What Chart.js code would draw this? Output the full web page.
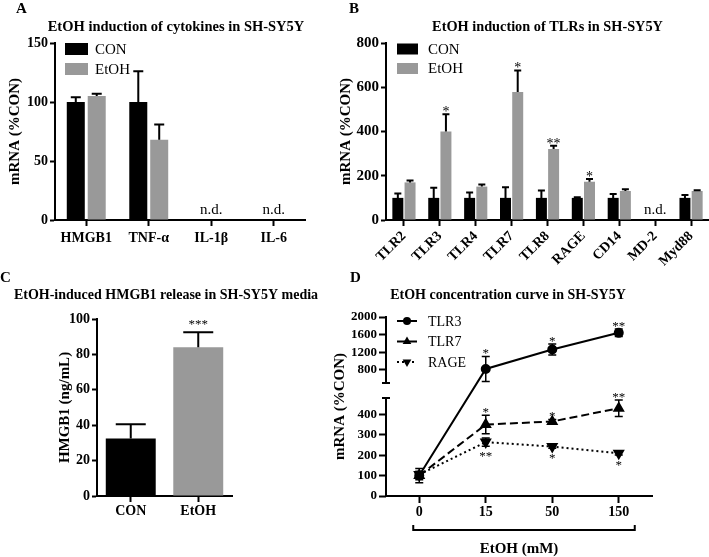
<!DOCTYPE html>
<html>
<head>
<meta charset="utf-8">
<script src="https://cdn.jsdelivr.net/npm/chart.js@4.4.1/dist/chart.umd.min.js"></script>
<style>
  body { margin: 0; background: #fff; }
  #fig { position: relative; width: 709px; height: 557px; overflow: hidden; background: #fff; }
  #fig canvas { position: absolute; }
  .lbl { position: absolute; font: bold 15px "Liberation Serif", "Times New Roman", serif; line-height: 16px; }
</style>
</head>
<body>
<div id="fig">
  <canvas id="cA" width="350" height="280" style="left:0;top:0"></canvas>
  <canvas id="cB" width="400" height="280" style="left:320px;top:0"></canvas>
  <canvas id="cC" width="350" height="277" style="left:0;top:280px"></canvas>
  <canvas id="cD" width="400" height="277" style="left:320px;top:280px"></canvas>
  <div class="lbl" style="left:16px;top:0">A</div>
  <div class="lbl" style="left:349px;top:0">B</div>
  <div class="lbl" style="left:0;top:269px">C</div>
  <div class="lbl" style="left:350px;top:269px">D</div>
</div>
<script>
// ---- A: cytokines ----
const catsA = ['HMGB1', 'TNF-α', 'IL-1β', 'IL-6'];
const conA = [100, 100, null, null];
const conErrA = [4, 26, null, null];
const etohA = [105, 68, null, null];
const etohErrA = [2, 13, null, null];
const ndA = ['', '', 'n.d.', 'n.d.'];
const ticksA = [0, 50, 100, 150];

// ---- B: TLRs ----
const catsB = ['TLR2', 'TLR3', 'TLR4', 'TLR7', 'TLR8', 'RAGE', 'CD14', 'MD-2', 'Myd88'];
const conB = [100, 100, 100, 100, 100, 100, 100, null, 100];
const conErrB = [20, 46, 24, 48, 33, 3, 17, null, 13];
const etohB = [170, 400, 151, 578, 321, 173, 131, null, 131];
const etohErrB = [8, 78, 10, 98, 15, 12, 8, null, 3];
const starsB = ['', '*', '', '*', '**', '*', '', '', ''];
const ndB = ['', '', '', '', '', '', '', 'n.d.', ''];
const ticksB = [0, 200, 400, 600, 800];

// ---- C: HMGB1 release ----
const catsC = ['CON', 'EtOH'];
const valC = [32.5, 84];
const errC = [8, 8.5];
const starsC = ['', '***'];
const ticksC = [0, 20, 40, 60, 80, 100];

// ---- D: concentration curve ----
const doseD = ['0', '15', '50', '150'];
const tlr3D = [100, 820, 1260, 1640];
const tlr3ErrD = [35, 285, 125, 85];
const tlr3StarsD = ['', '*', '*', '**'];
const tlr7D = [100, 350, 365, 430];
const tlr7ErrD = [20, 45, 10, 40];
const tlr7StarsD = ['', '*', '*', '**'];
const rageD = [105, 264, 242, 209];
const rageErrD = [15, 20, 8, 8];
const rageStarsD = ['', '**', '*', '*'];
const ticksD = [0, 100, 200, 300, 400, 800, 1200, 1600, 2000];
const breakLow = 480, breakHigh = 500;   // y axis is cut between these

const serif = '"Liberation Serif", "Times New Roman", serif';
Chart.defaults.font.family = serif;
Chart.defaults.color = '#000';

// y scale with a gap, for panel D
const lowFrac = 98 / 179, gapFrac = 15 / 179;
class BrokenScale extends Chart.LinearScale {
  frac(v) {
    if (v <= breakLow) return v / breakLow * lowFrac;
    if (v >= breakHigh) return lowFrac + gapFrac + (v - breakHigh) / (this.max - breakHigh) * (1 - lowFrac - gapFrac);
    return lowFrac + (v - breakLow) / (breakHigh - breakLow) * gapFrac;
  }
  getPixelForValue(v) {
    if (v === null || v === undefined) return NaN;
    return this.bottom - this.frac(v) * (this.bottom - this.top);
  }
  getValueForPixel(p) {
    const f = (this.bottom - p) / (this.bottom - this.top);
    if (f <= lowFrac) return f / lowFrac * breakLow;
    if (f >= lowFrac + gapFrac) return breakHigh + (f - lowFrac - gapFrac) / (1 - lowFrac - gapFrac) * (this.max - breakHigh);
    return breakLow + (f - lowFrac) / gapFrac * (breakHigh - breakLow);
  }
}
BrokenScale.id = 'broken';
BrokenScale.defaults = Chart.LinearScale.defaults;
Chart.register(BrokenScale);

function yAxis(title, titlePad, width, fontSize, tickLen, tickVals) {
  return {
    position: 'left',
    z: 1,
    min: tickVals[0],
    max: tickVals[tickVals.length - 1],
    afterBuildTicks: s => { s.ticks = tickVals.map(v => ({ value: v })); },
    title: { display: true, text: title, font: { size: 15, weight: 'bold' }, padding: { top: titlePad, bottom: 0 } },
    ticks: { font: { size: fontSize, weight: 'bold' }, padding: 2, color: '#000', callback: v => String(v) },
    grid: { drawOnChartArea: false, drawTicks: true, tickLength: tickLen, tickWidth: 2, tickColor: '#000' },
    border: { display: true, width: 2, color: '#000' },
    afterFit: s => { s.width = width; }
  };
}

function xAxis(fontSize, tickLen, pad, height) {
  return {
    z: 1,
    ticks: { font: { size: fontSize, weight: 'bold' }, padding: pad, color: '#000', maxRotation: 0, autoSkip: false },
    grid: { offset: false, drawOnChartArea: false, drawTicks: true, tickLength: tickLen, tickWidth: 2, tickColor: '#000' },
    border: { display: true, width: 2, color: '#000' },
    afterFit: s => { s.height = height; }
  };
}

function marker(ctx, style, r, x, y) {
  ctx.beginPath();
  if (style === 'circle') {
    ctx.arc(x, y, r, 0, Math.PI * 2);
  } else {
    const s = style === 'down' ? -1 : 1;
    ctx.moveTo(x, y - s * r);
    ctx.lineTo(x + r * 0.87, y + s * r * 0.5);
    ctx.lineTo(x - r * 0.87, y + s * r * 0.5);
    ctx.closePath();
  }
  ctx.fill();
}

// error bars, stars, n.d., titles, legends
function makeExtras(cfg) {
  return {
    id: 'extras',
    afterDatasetsDraw(chart) {
      const ctx = chart.ctx, ys = chart.scales.y;
      ctx.save();
      chart.data.datasets.forEach((ds, i) => {
        if (!ds.errors) return;
        const meta = chart.getDatasetMeta(i);
        meta.data.forEach((el, j) => {
          const v = ds.data[j], e = ds.errors[j];
          if (v === null || e === null) return;
          const x = el.x;
          const yTop = ys.getPixelForValue(v + e);
          const yBot = ys.getPixelForValue(cfg.both ? v - e : v);
          ctx.strokeStyle = '#000';
          ctx.lineWidth = cfg.errWidth || 2;
          ctx.setLineDash([]);
          ctx.beginPath();
          ctx.moveTo(x, yBot); ctx.lineTo(x, yTop);
          ctx.moveTo(x - cfg.cap / 2, yTop); ctx.lineTo(x + cfg.cap / 2, yTop);
          if (cfg.both) { ctx.moveTo(x - cfg.cap / 2, yBot); ctx.lineTo(x + cfg.cap / 2, yBot); }
          ctx.stroke();
          const s = ds.stars && ds.stars[j];
          if (s) {
            ctx.fillStyle = '#000';
            ctx.font = cfg.starFont + 'px ' + serif;
            ctx.textAlign = 'center';
            ctx.textBaseline = 'alphabetic';
            const y = ds.starsBelow ? yBot + cfg.starBelow : yTop + cfg.starAbove;
            ctx.fillText(s, x, y);
          }
        });
      });
      ctx.restore();
    },
    afterDraw(chart) {
      const ctx = chart.ctx, ca = chart.chartArea, xs = chart.scales.x, ys = chart.scales.y;
      ctx.save();
      ctx.fillStyle = '#000';
      ctx.strokeStyle = '#000';
      // title
      ctx.font = 'bold ' + cfg.titleSize + 'px ' + serif;
      ctx.textAlign = 'center';
      ctx.textBaseline = 'middle';
      ctx.fillText(cfg.title, (ca.left + ca.right) / 2 + cfg.titleDx, cfg.titleY);
      // n.d.
      if (cfg.nd) {
        ctx.font = '15px ' + serif;
        ctx.textBaseline = 'alphabetic';
        cfg.nd.forEach((t, j) => { if (t) ctx.fillText(t, xs.getPixelForValue(j), ys.getPixelForValue(0) - 6); });
      }
      // legend
      const lg = cfg.legend;
      if (lg) {
        ctx.font = lg.size + 'px ' + serif;
        ctx.textAlign = 'left';
        ctx.textBaseline = 'middle';
        chart.data.datasets.forEach((ds, i) => {
          const y = ca.top + lg.y + i * lg.dy;
          const x = ca.left + lg.x;
          if (lg.lines) {
            ctx.lineWidth = 2;
            ctx.setLineDash(ds.borderDash || []);
            ctx.beginPath(); ctx.moveTo(x, y); ctx.lineTo(x + lg.w, y); ctx.stroke();
            ctx.setLineDash([]);
            marker(ctx, ds.marker, ds.marker === 'circle' ? 4 : 5, x + lg.w / 2, y);
          } else {
            ctx.fillStyle = ds.backgroundColor;
            ctx.fillRect(x, y - lg.h / 2, lg.w, lg.h);
          }
          ctx.fillStyle = '#000';
          ctx.fillText(ds.label, x + lg.tx, y + 1);
        });
      }
      // broken y axis and bracket (panel D)
      if (cfg.broken) {
        const x0 = ca.left;
        ctx.lineWidth = 2;
        ctx.beginPath();
        ctx.moveTo(x0, ys.getPixelForValue(0) + 1); ctx.lineTo(x0, ys.getPixelForValue(breakLow));
        ctx.moveTo(x0 - 4, ys.getPixelForValue(breakLow)); ctx.lineTo(x0 + 4, ys.getPixelForValue(breakLow));
        ctx.moveTo(x0, ys.getPixelForValue(ys.max) - 1); ctx.lineTo(x0, ys.getPixelForValue(breakHigh));
        ctx.moveTo(x0 - 4, ys.getPixelForValue(breakHigh)); ctx.lineTo(x0 + 4, ys.getPixelForValue(breakHigh));
        ctx.stroke();
        const bx0 = xs.getPixelForValue(0) - 6, bx1 = xs.getPixelForValue(doseD.length - 1) + 16;
        ctx.beginPath();
        ctx.moveTo(bx0, cfg.bracketY - 5); ctx.lineTo(bx0, cfg.bracketY);
        ctx.lineTo(bx1, cfg.bracketY); ctx.lineTo(bx1, cfg.bracketY - 5);
        ctx.stroke();
      }
      ctx.restore();
    }
  };
}

const noPlugins = { legend: { display: false }, tooltip: { enabled: false } };

// Panel A
new Chart(document.getElementById('cA'), {
  type: 'bar',
  data: {
    labels: catsA,
    datasets: [
      { label: 'CON', data: conA, errors: conErrA, backgroundColor: '#000' },
      { label: 'EtOH', data: etohA, errors: etohErrA, backgroundColor: '#999' }
    ]
  },
  options: {
    responsive: false, animation: false,
    layout: { padding: { left: 0, top: 43, right: 45, bottom: 0 } },
    datasets: { bar: { categoryPercentage: 0.67, barPercentage: 0.86 } },
    plugins: noPlugins,
    scales: {
      x: xAxis(14, 6, 4, 60),
      y: yAxis('mRNA (%CON)', 6, 55, 14, 5, ticksA)
    }
  },
  plugins: [makeExtras({
    cap: 10, title: 'EtOH induction of cytokines in SH-SY5Y', titleSize: 14.5, titleDx: -4, titleY: 27,
    nd: ndA, legend: { x: 10, y: 6, dy: 20, w: 23, h: 12, tx: 30, size: 15 }
  })]
});

// Panel B
const xB = xAxis(14, 6, 2, 60);
xB.ticks.maxRotation = 45;
xB.ticks.minRotation = 45;
new Chart(document.getElementById('cB'), {
  type: 'bar',
  data: {
    labels: catsB,
    datasets: [
      { label: 'CON', data: conB, errors: conErrB, backgroundColor: '#000' },
      { label: 'EtOH', data: etohB, errors: etohErrB, stars: starsB, backgroundColor: '#999' }
    ]
  },
  options: {
    responsive: false, animation: false,
    layout: { padding: { left: 0, top: 43, right: 11, bottom: 0 } },
    datasets: { bar: { categoryPercentage: 0.68, barPercentage: 0.9 } },
    plugins: noPlugins,
    scales: {
      x: xB,
      y: yAxis('mRNA (%CON)', 17, 66, 15, 5, ticksB)
    }
  },
  plugins: [makeExtras({
    cap: 7, starFont: 14, starAbove: 2, title: 'EtOH induction of TLRs in SH-SY5Y', titleSize: 14.3, titleDx: 0, titleY: 27,
    nd: ndB, legend: { x: 11, y: 6, dy: 19.5, w: 21, h: 11, tx: 31, size: 15 }
  })]
});

// Panel C
new Chart(document.getElementById('cC'), {
  type: 'bar',
  data: {
    labels: catsC,
    datasets: [
      { label: 'HMGB1', data: valC, errors: errC, stars: starsC, backgroundColor: ['#000', '#999'] }
    ]
  },
  options: {
    responsive: false, animation: false,
    layout: { padding: { left: 0, top: 39, right: 118, bottom: 0 } },
    datasets: { bar: { categoryPercentage: 0.74, barPercentage: 1 } },
    plugins: noPlugins,
    scales: {
      x: xAxis(14, 6, 1, 61),
      y: yAxis('HMGB1 (ng/mL)', 56, 97, 14, 5, ticksC)
    }
  },
  plugins: [makeExtras({
    cap: 30, starFont: 13, starAbove: -4, title: 'EtOH-induced HMGB1 release in SH-SY5Y media', titleSize: 14, titleDx: 1.5, titleY: 15
  })]
});

// Panel D
const yD = yAxis('mRNA (%CON)', 11, 66, 13, 7, ticksD);
yD.type = 'broken';
yD.border = { display: false };
const xD = xAxis(14, 7, 1, 61);
xD.offset = true;
xD.title = { display: true, text: 'EtOH (mM)', font: { size: 15, weight: 'bold', lineHeight: 1 }, padding: 0 };
new Chart(document.getElementById('cD'), {
  type: 'line',
  data: {
    labels: doseD,
    datasets: [
      { label: 'TLR3', data: tlr3D, errors: tlr3ErrD, stars: tlr3StarsD, marker: 'circle',
        borderColor: '#000', backgroundColor: '#000', borderWidth: 2, pointStyle: 'circle', pointRadius: 4 },
      { label: 'TLR7', data: tlr7D, errors: tlr7ErrD, stars: tlr7StarsD, marker: 'up', borderDash: [8, 4],
        borderColor: '#000', backgroundColor: '#000', borderWidth: 2, pointStyle: 'triangle', pointRadius: 5 },
      { label: 'RAGE', data: rageD, errors: rageErrD, stars: rageStarsD, starsBelow: true, marker: 'down', borderDash: [2, 3],
        borderColor: '#000', backgroundColor: '#000', borderWidth: 2, pointStyle: 'triangle', pointRotation: 180, pointRadius: 5 }
    ]
  },
  options: {
    responsive: false, animation: false,
    layout: { padding: { left: 0, top: 37, right: 68, bottom: 0 } },
    plugins: noPlugins,
    scales: { x: xD, y: yD }
  },
  plugins: [makeExtras({
    both: true, cap: 8, errWidth: 1.5, starFont: 13, starAbove: 1, starBelow: 14,
    title: 'EtOH concentration curve in SH-SY5Y', titleSize: 14, titleDx: -11, titleY: 15,
    broken: true, bracketY: 250,
    legend: { x: 11, y: 4, dy: 20.5, w: 20, h: 0, tx: 31, size: 14, lines: true }
  })]
});
</script>
</body>
</html>
